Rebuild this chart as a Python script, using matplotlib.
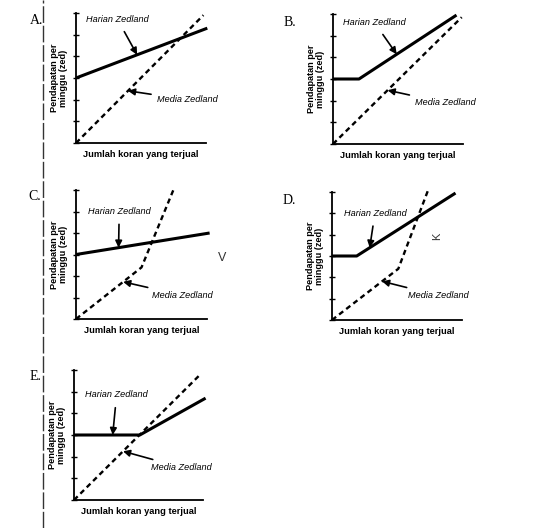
import matplotlib
matplotlib.use('Agg')
from matplotlib import pyplot as plt
from matplotlib.lines import Line2D

plt.rcParams['font.family'] = ['Liberation Sans', 'DejaVu Sans']

# panel data: x = newspapers sold, y = weekly income (tick units)
panels = ['A.', 'B.', 'C.', 'D.', 'E.']

harian_x = [[0, 10.1], [0, 2, 9.5], [0, 10.2], [0, 1.9, 9.5], [0, 5.1, 10.2]]
harian_y = [[3, 5.3], [3, 3, 5.95], [3, 4.0], [3, 3, 5.95], [3, 3, 4.7]]

media_x = [[0, 9.8], [0, 9.9], [0, 5.0, 7.5], [0, 5.1, 7.4], [0, 9.8]]
media_y = [[0, 5.9], [0, 5.85], [0, 2.4, 6.1], [0, 2.4, 6.1], [0, 5.8]]

# annotation anchors: (text x, text y, arrow head x)
harian_note = [(3.2, 5.7, 4.7), (3.2, 5.6, 4.9), (3.3, 5.0, 3.25), (3.3, 5.0, 2.9), (3.3, 4.85, 3.0)]
media_note = [(6.2, 2.0, 4.0), (6.3, 1.9, 4.2), (5.8, 1.1, 3.6), (5.85, 1.15, 3.85), (6.0, 1.5, 3.8)]

# axes boxes in pixels: left, origin y, width, height
boxes = [(76, 143, 130, 130), (333, 144, 130, 130), (76, 319, 131, 129),
         (332, 320, 130, 128), (74, 500, 129, 130)]
letter_pos = [(30, 20), (284, 22), (28, 196), (283, 200), (30, 376)]

W, H = 537, 528
fig = plt.figure(figsize=(W / 100, H / 100), dpi=100)


def interp(xs, ys, x):
    for i in range(len(xs) - 1):
        if xs[i] <= x <= xs[i + 1]:
            t = (x - xs[i]) / (xs[i + 1] - xs[i])
            return ys[i] + t * (ys[i + 1] - ys[i])
    return ys[-1]


for i in range(5):
    l, oy, w, h = boxes[i]
    ax = fig.add_axes([l / W, (H - oy) / H, w / W, h / H])
    ax.plot(harian_x[i], harian_y[i], color='black', lw=2.2, clip_on=False,
            solid_capstyle='butt')
    ax.plot(media_x[i], media_y[i], color='black', lw=1.7, ls=(0, (2.2, 1.6)),
            clip_on=False)
    ax.set_xlim(0, 10)
    ax.set_ylim(0, 6)
    ax.set_xticks([])
    ax.set_yticks(range(7))
    ax.set_yticklabels([])
    ax.tick_params(axis='y', direction='inout', length=5, width=1)
    for s in ['top', 'right']:
        ax.spines[s].set_visible(False)
    for s in ['left', 'bottom']:
        ax.spines[s].set_linewidth(1.3)
    ax.set_facecolor('none')
    ax.set_ylabel('Pendapatan per\nminggu (zed)', fontsize=6.6,
                  fontweight='bold', labelpad=0, linespacing=1.0)
    ax.set_xlabel('Jumlah koran yang terjual', fontsize=6.7,
                  fontweight='bold', labelpad=5)

    tx, ty, hx = harian_note[i]
    hy = interp(harian_x[i], harian_y[i], hx)
    ax.annotate('Harian Zedland', xy=(hx, hy), xytext=(tx, ty),
                fontsize=6.6, style='italic', ha='center', va='center',
                arrowprops=dict(arrowstyle='-|>', color='black', lw=1.2,
                                mutation_scale=10, shrinkA=4, shrinkB=0))
    tx, ty, hx = media_note[i]
    hy = interp(media_x[i], media_y[i], hx)
    ax.annotate('Media Zedland', xy=(hx, hy), xytext=(tx, ty),
                fontsize=6.6, style='italic', ha='left', va='center',
                arrowprops=dict(arrowstyle='-|>', color='black', lw=1.2,
                                mutation_scale=10, shrinkA=2, shrinkB=0))

    lx, ly = letter_pos[i]
    fig.text(lx / W, 1 - ly / H, panels[i], fontsize=10, family='Liberation Serif',
             va='center', ha='left')

# page margin line from the scan
fig.add_artist(Line2D([43 / W, 43 / W], [0, 1], color='#333333', lw=1,
                      ls=(0, (12, 2))))

# handwritten marks
fig.text(222 / W, 1 - 258 / H, 'V', fontsize=9, color='#333333', ha='center', va='center')
fig.text(437 / W, 1 - 236 / H, 'K', fontsize=8, color='#333333', ha='center', va='center',
         rotation=90)

fig.savefig('out.png', dpi=100)
